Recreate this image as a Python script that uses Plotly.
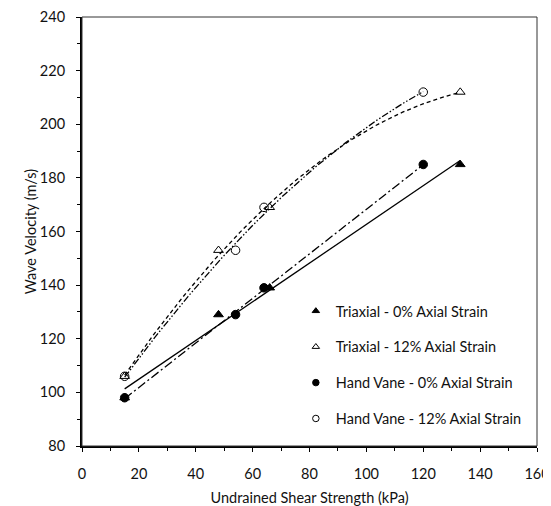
import numpy as np
import plotly.graph_objects as go

# Data
tri_x = [15, 48, 66, 133]
tri0_y = [98, 129, 139, 185]
tri12_y = [106, 153, 169, 212]

hv_x = [15, 54, 64, 120]
hv0_y = [98, 129, 139, 185]
hv12_y = [106, 153, 169, 212]

names = ["Triaxial - 0% Axial Strain", "Triaxial - 12% Axial Strain",
         "Hand Vane - 0% Axial Strain", "Hand Vane - 12% Axial Strain"]

x_ticks = [0, 20, 40, 60, 80, 100, 120, 140, 160]
y_ticks = [80, 100, 120, 140, 160, 180, 200, 220, 240]

FONT = "Lato, Noto Sans, sans-serif"
FS = 14.5

fig = go.Figure()


def trend(xs, ys, deg, dash):
    coef = np.polyfit(xs, ys, deg)
    xx = np.linspace(min(xs), max(xs), 100)
    fig.add_trace(go.Scatter(x=xx, y=np.polyval(coef, xx), mode="lines",
                             line=dict(color="black", width=1.3, dash=dash),
                             showlegend=False, hoverinfo="skip"))


trend(tri_x, tri0_y, 1, "solid")
trend(tri_x, tri12_y, 2, "4px,3px")
trend(hv_x, hv0_y, 1, "9px,3px,2px,3px")
trend(hv_x, hv12_y, 2, "7px,2px,1.5px,2px,1.5px,2px")

series = [
    (tri_x, tri0_y, "triangle-up", names[0]),
    (tri_x, tri12_y, "triangle-up-open", names[1]),
    (hv_x, hv0_y, "circle", names[2]),
    (hv_x, hv12_y, "circle-open", names[3]),
]
for i, (xs, ys, sym, nm) in enumerate(series):
    fig.add_trace(go.Scatter(x=xs, y=ys, mode="markers", showlegend=False,
                             marker=dict(symbol=sym, size=8.5, color="black",
                                         line=dict(color="black", width=1))))
    # legend entry (smaller marker, like the reference legend)
    fig.add_trace(go.Scatter(x=[None], y=[None], mode="markers", name=nm,
                             legendgroup=f"g{i}",
                             marker=dict(symbol=sym, size=6.5, color="black",
                                         line=dict(color="black", width=1))))

axis_common = dict(showgrid=False, zeroline=False, showline=True,
                   linecolor="black", linewidth=2, mirror=False,
                   automargin=False, ticklabeloverflow="allow",
                   ticks="outside", ticklen=4, tickwidth=1, tickcolor="black",
                   tickfont=dict(family=FONT, size=FS, color="#111"),
                   minor=dict(ticks="outside", ticklen=3, tickwidth=1,
                              tickcolor="black", dtick=10))

fig.update_xaxes(range=[0, 160], tickvals=x_ticks, ticklabelstandoff=10,
                 title=dict(text="Undrained Shear Strength (kPa)",
                            font=dict(family=FONT, size=FS, color="#111"),
                            standoff=14),
                 **axis_common)
fig.update_yaxes(range=[80, 240], tickvals=y_ticks, ticklabelstandoff=8,
                 title=dict(text="Wave Velocity (m/s)",
                            font=dict(family=FONT, size=FS, color="#111"),
                            standoff=0),
                 **axis_common)

# thin frame on top/right
fig.add_shape(type="rect", xref="paper", yref="paper", x0=0, y0=0, x1=1, y1=1,
              line=dict(color="#333", width=1), layer="above")

fig.update_layout(
    width=543, height=498,
    margin=dict(l=74, r=14, t=9, b=60),
    paper_bgcolor="white", plot_bgcolor="white",
    legend=dict(x=0.47, y=0.352, xanchor="left", yanchor="top",
                traceorder="grouped", tracegroupgap=14,
                bgcolor="rgba(0,0,0,0)",
                font=dict(family=FONT, size=FS, color="#111"),
                itemwidth=30),
)

fig.write_html("out.html")
